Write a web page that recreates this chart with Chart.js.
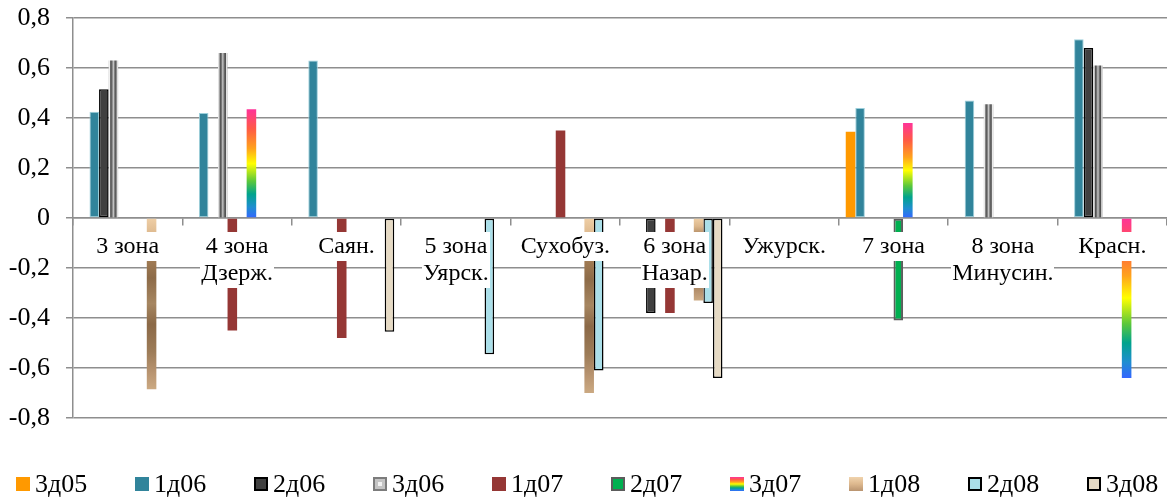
<!DOCTYPE html>
<html lang="ru">
<head>
<meta charset="utf-8">
<title>Отклонения по зонам</title>
<script src="https://cdn.jsdelivr.net/npm/chart.js@4.4.1/dist/chart.umd.min.js"></script>
<style>
  html, body { margin: 0; padding: 0; background: #ffffff; }
  #wrap { position: relative; width: 1167px; height: 499px; }
</style>
</head>
<body>
<div id="wrap"><canvas id="chart"></canvas></div>
<script>
// ---- data ----
const categories = [
  ['3 зона'], ['4 зона', 'Дзерж.'], ['Саян.'], ['5 зона', 'Уярск.'], ['Сухобуз.'],
  ['6 зона', 'Назар.'], ['Ужурск.'], ['7 зона'], ['8 зона', 'Минусин.'], ['Красн.']
];
const seriesNames = ['3д05', '1д06', '2д06', '3д06', '1д07', '2д07', '3д07', '1д08', '2д08', '3д08'];

const v3d05 = [null, null, null, null, null, null, null, 0.345, null, null];
const v1d06 = [0.425, 0.42, 0.63, null, null, null, null, 0.44, 0.47, 0.715];
const v2d06 = [0.515, null, null, null, null, -0.38, null, null, null, 0.68];
const v3d06 = [0.63, 0.66, null, null, null, null, null, null, 0.455, 0.61];
const v1d07 = [null, -0.45, -0.48, null, 0.35, -0.38, null, null, null, null];
const v2d07 = [null, null, null, null, null, null, null, -0.41, null, null];
const v3d07 = [null, 0.435, null, null, null, null, null, 0.38, null, -0.64];
const v1d08 = [-0.685, null, null, null, -0.70, -0.33, null, null, null, null];
const v2d08 = [null, null, null, -0.545, -0.61, -0.34, null, null, null, null];
const v3d08 = [null, null, -0.455, null, null, -0.64, null, null, null, null];

const yMin = -0.8, yMax = 0.8, yStep = 0.2;

// ---- styling ----
const FONT = "'Liberation Serif', 'Times New Roman', serif";
const GRID = '#8e8e8e';
const CAT_PCT = 0.873;

const METAL = [[0, '#cfcfcf'], [0.1, '#f2f2f2'], [0.22, '#4c4c4c'], [0.36, '#747474'],
               [0.5, '#c9c9c9'], [0.64, '#747474'], [0.78, '#4c4c4c'], [0.9, '#f0f0f0'], [1, '#bdbdbd']];
const RAINBOW = [[0, '#ff3399'], [0.18, '#ff5a45'], [0.36, '#ffa21c'], [0.5, '#ffff00'],
                 [0.66, '#5cc83a'], [0.78, '#00a38c'], [0.9, '#1f8ed0'], [1, '#3366ff']];
const WOOD = [[0, '#efcfa6'], [0.1, '#dcb78c'], [0.22, '#a57f57'], [0.35, '#8d6b48'],
              [0.5, '#a68661'], [0.62, '#8b6947'], [0.78, '#9d7c58'], [0.9, '#b89470'], [1, '#cba982']];

// geometry of one bar, taken from the chart's own scales
function barBox(c) {
  const chart = c.chart;
  const area = chart.chartArea;
  if (!area || c.raw == null) return null;
  const xs = chart.scales.x, ys = chart.scales.y;
  const n = chart.data.datasets.length;
  const cw = (area.right - area.left) / chart.data.labels.length;
  const bw = cw * CAT_PCT / n;
  const left = xs.getPixelForValue(c.dataIndex) - cw * CAT_PCT / 2 + c.datasetIndex * bw;
  const y1 = ys.getPixelForValue(c.raw), y0 = ys.getPixelForValue(0);
  return { left, right: left + bw, top: Math.min(y0, y1), bottom: Math.max(y0, y1) };
}
function addStops(g, stops) { stops.forEach(([o, col]) => g.addColorStop(o, col)); return g; }
function barGradient(stops, horizontal) {
  return c => {
    const b = barBox(c);
    if (!b) return stops[Math.floor(stops.length / 2)][1];
    const ctx = c.chart.ctx;
    const g = horizontal
      ? ctx.createLinearGradient(b.left, 0, b.right, 0)
      : ctx.createLinearGradient(0, b.top, 0, b.bottom);
    return addStops(g, stops);
  };
}

const seriesStyle = {
  '3д05': { bg: '#ff9900' },
  '1д06': { bg: '#31849b', border: '#9ccfdb', bw: 1 },
  '2д06': { bg: '#404040', border: '#000000', bw: 1.5 },
  '3д06': { bg: barGradient(METAL, true), swatch: 'metal' },
  '1д07': { bg: '#953735' },
  '2д07': { bg: '#00b050', border: '#5c5c5c', bw: 2 },
  '3д07': { bg: barGradient(RAINBOW, false), swatch: RAINBOW },
  '1д08': { bg: barGradient(WOOD, false), swatch: [[0, '#f0d3ad'], [0.5, '#ddb88e'], [1, '#b99470']] },
  '2д08': { bg: '#abdfe9', border: '#000000', bw: 1.5 },
  '3д08': { bg: '#e6dac4', border: '#000000', bw: 1.5 }
};

const seriesValues = [v3d05, v1d06, v2d06, v3d06, v1d07, v2d07, v3d07, v1d08, v2d08, v3d08];

const datasets = seriesNames.map((name, i) => {
  const s = seriesStyle[name];
  return {
    label: name,
    data: seriesValues[i],
    backgroundColor: s.bg,
    borderColor: s.border || 'rgba(0,0,0,0)',
    borderWidth: s.bw || 0,
    borderSkipped: false,
    categoryPercentage: CAT_PCT,
    barPercentage: 1
  };
});

// white boxes behind the category names, so they read over the bars
const X_FONT_SIZE = 24, X_LINE = 27, X_PAD = 8, X_TICK = 7;
const labelBackdrop = {
  id: 'labelBackdrop',
  afterDatasetsDraw(chart) {
    const xs = chart.scales.x, ys = chart.scales.y, ctx = chart.ctx;
    ctx.save();
    ctx.font = X_FONT_SIZE + 'px ' + FONT;
    ctx.fillStyle = '#ffffff';
    const top = ys.getPixelForValue(0) + X_TICK + X_PAD - 1;
    chart.data.labels.forEach((lab, i) => {
      const lines = Array.isArray(lab) ? lab : [lab];
      const w = Math.max(...lines.map(s => ctx.measureText(s).width));
      const cx = xs.getPixelForTick(i);
      ctx.fillRect(Math.round(cx - w / 2 - 1), Math.round(top), Math.round(w + 2), lines.length * X_LINE + 2);
    });
    ctx.restore();
  }
};

// legend row along the bottom
const LEG_X0 = 16, LEG_STEP = 119, LEG_Y = 477, LEG_BOX = 14;
const swatchLegend = {
  id: 'swatchLegend',
  afterDraw(chart) {
    const ctx = chart.ctx;
    ctx.save();
    chart.data.datasets.forEach((ds, i) => {
      const s = seriesStyle[ds.label];
      const x = LEG_X0 + i * LEG_STEP, y = LEG_Y, b = LEG_BOX;
      if (s.swatch === 'metal') {
        ctx.fillStyle = '#7c7c7c'; ctx.fillRect(x, y, b, b);
        ctx.fillStyle = '#c4c4c4'; ctx.fillRect(x + 2, y + 2, b - 4, b - 4);
        ctx.fillStyle = '#f2f2f2'; ctx.fillRect(x + 5, y + 5, b - 10, b - 10);
      } else if (Array.isArray(s.swatch)) {
        ctx.fillStyle = addStops(ctx.createLinearGradient(0, y, 0, y + b), s.swatch);
        ctx.fillRect(x, y, b, b);
      } else {
        ctx.fillStyle = s.bg;
        ctx.fillRect(x, y, b, b);
        if (s.border && s.bw > 1) {
          ctx.strokeStyle = s.border;
          ctx.lineWidth = 2;
          ctx.strokeRect(x + 1, y + 1, b - 2, b - 2);
        }
      }
      ctx.fillStyle = '#000000';
      ctx.font = '26px ' + FONT;
      ctx.textBaseline = 'middle';
      ctx.textAlign = 'left';
      ctx.fillText(ds.label, x + b + 5, y + b / 2 + 1);
    });
    ctx.restore();
  }
};

new Chart(document.getElementById('chart'), {
  type: 'bar',
  data: { labels: categories, datasets },
  plugins: [labelBackdrop, swatchLegend],
  options: {
    responsive: true,
    maintainAspectRatio: false,
    animation: false,
    events: [],
    layout: { padding: { top: 18, bottom: 81, left: 0, right: 0 } },
    plugins: { legend: { display: false }, tooltip: { enabled: false } },
    scales: {
      x: {
        position: { y: 0 },
        offset: true,
        afterFit(scale) { scale.height = 0; scale.paddingLeft = 0; scale.paddingRight = 0; },
        grid: { display: true, drawOnChartArea: false, drawTicks: true, tickLength: X_TICK, color: GRID, lineWidth: 1.5, offset: true },
        border: { display: true, color: GRID, width: 1.5 },
        ticks: {
          z: 1,
          color: '#000000',
          padding: X_PAD,
          autoSkip: false,
          maxRotation: 0,
          font: { family: FONT, size: X_FONT_SIZE, lineHeight: X_LINE / X_FONT_SIZE }
        }
      },
      y: {
        min: yMin,
        max: yMax,
        afterFit(scale) { scale.width = 73; scale.paddingTop = 0; scale.paddingBottom = 0; },
        grid: { color: GRID, lineWidth: 1.5, tickLength: 7 },
        border: { display: true, color: GRID, width: 1.5 },
        ticks: {
          stepSize: yStep,
          padding: 16,
          color: '#000000',
          font: { family: FONT, size: 26, lineHeight: 1.2 },
          callback: v => Math.abs(v) < 1e-9 ? '0' : v.toFixed(1).replace('.', ',')
        }
      }
    }
  }
});
</script>
</body>
</html>
